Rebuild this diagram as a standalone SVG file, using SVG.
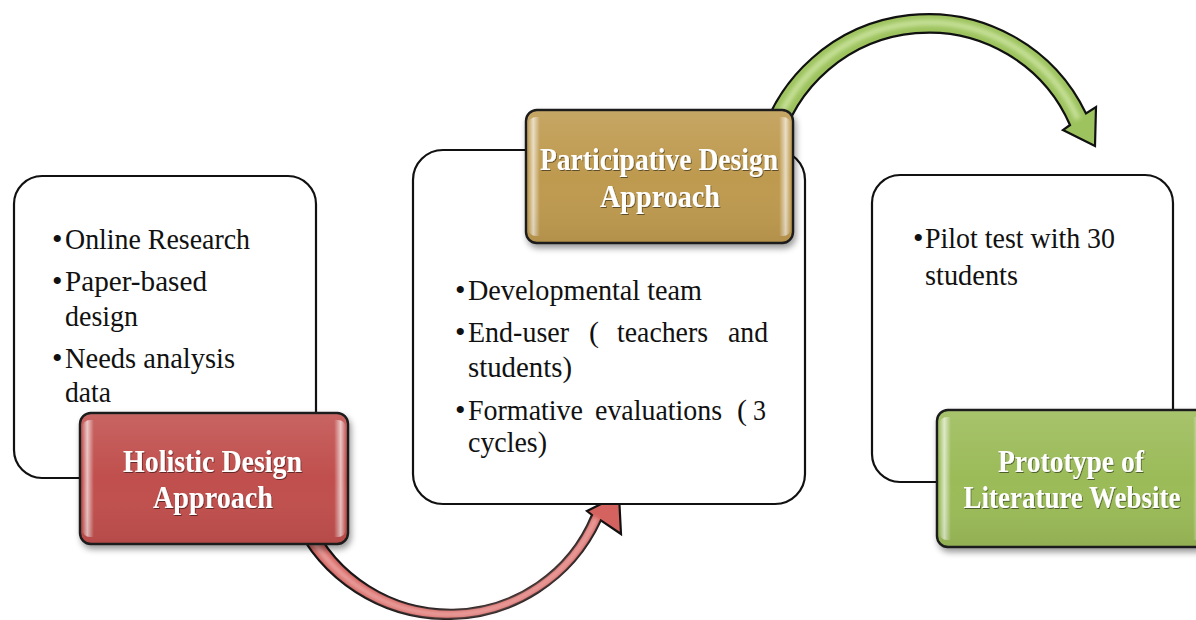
<svg xmlns="http://www.w3.org/2000/svg" width="1196" height="620" viewBox="0 0 1196 620">
<defs>
<style>
.card{fill:#ffffff;stroke:#111;stroke-width:2.2}
.body{font-family:"Liberation Serif","Times New Roman",serif;font-size:30px;fill:#111}
.head{font-family:"Liberation Serif","Times New Roman",serif;font-size:31px;font-weight:bold;fill:#fff}
.tile{stroke:#1a1a1a;stroke-width:2.4}
.arrow{stroke:#111;stroke-width:2.2;stroke-linejoin:miter}
</style>
<filter id="sh" x="-10%" y="-10%" width="125%" height="130%">
<feDropShadow dx="2" dy="4" stdDeviation="3" flood-color="#000" flood-opacity="0.4"/>
</filter>
<filter id="tsh" x="-5%" y="-20%" width="110%" height="150%">
<feDropShadow dx="0.8" dy="1" stdDeviation="0.6" flood-color="#000" flood-opacity="0.5"/>
</filter>
<filter id="blur"><feGaussianBlur stdDeviation="2"/></filter>
<linearGradient id="gloss" x1="0" y1="0" x2="1" y2="0">
<stop offset="0" stop-color="#fff" stop-opacity="0"/>
<stop offset="0.02" stop-color="#fff" stop-opacity="0.65"/>
<stop offset="0.045" stop-color="#fff" stop-opacity="0"/>
<stop offset="0.955" stop-color="#fff" stop-opacity="0"/>
<stop offset="0.98" stop-color="#fff" stop-opacity="0.65"/>
<stop offset="1" stop-color="#fff" stop-opacity="0"/>
</linearGradient>
<linearGradient id="vshade" x1="0" y1="0" x2="0" y2="1">
<stop offset="0" stop-color="#fff" stop-opacity="0.12"/>
<stop offset="0.5" stop-color="#fff" stop-opacity="0"/>
<stop offset="1" stop-color="#000" stop-opacity="0.06"/>
</linearGradient>
</defs>
<rect width="1196" height="620" fill="#ffffff"/>

<g id="connectors">
<g id="arrow-red">
<path class="arrow" fill="#D4625F" d="M 293.4,520 A 169 169 0 0 0 600.8,520.4 L 621,534 L 619,495 L 587,511 L 592,515 A 153 153 0 0 1 311.2,520 Z"/>
<path d="M 302,520 A 161 161 0 0 0 596,518" fill="none" stroke="#F0B0AE" stroke-width="6" opacity="0.8" filter="url(#blur)"/>
</g>
<g id="arrow-green">
<path class="arrow" fill="#9DC35E" d="M 757.6,150 A 175 175 0 0 1 1086,113.5 L 1096,107 L 1095,146 L 1063,130 L 1070,125 A 154 154 0 0 0 779.3,150 Z"/>
<path d="M 768,150 A 164.5 164.5 0 0 1 1078,119" fill="none" stroke="#D2E8A8" stroke-width="6" opacity="0.8" filter="url(#blur)"/>
</g>
</g>

<g id="node-holistic-list">
<rect class="card" x="14" y="176" width="302" height="302" rx="28"/>
<text class="body" x="52" y="249">•</text>
<text class="body" x="65" y="249" textLength="185" lengthAdjust="spacingAndGlyphs">Online Research</text>
<text class="body" x="52" y="291">•</text>
<text class="body" x="65" y="291" textLength="142" lengthAdjust="spacingAndGlyphs">Paper-based</text>
<text class="body" x="65" y="326" textLength="73" lengthAdjust="spacingAndGlyphs">design</text>
<text class="body" x="52" y="368">•</text>
<text class="body" x="65" y="368" textLength="170" lengthAdjust="spacingAndGlyphs">Needs analysis</text>
<text class="body" x="65" y="402" textLength="46" lengthAdjust="spacingAndGlyphs">data</text>
</g>

<g id="node-holistic">
<rect class="tile" x="80" y="413" width="268" height="131" rx="11" fill="#C0504D" filter="url(#sh)"/>
<rect x="82" y="420" width="264" height="117" rx="8" fill="url(#gloss)"/>
<rect x="81" y="414" width="266" height="129" rx="10" fill="url(#vshade)"/>
<g filter="url(#tsh)">
<text class="head" x="123" y="472" textLength="179" lengthAdjust="spacingAndGlyphs">Holistic Design</text>
<text class="head" x="153" y="508" textLength="120" lengthAdjust="spacingAndGlyphs">Approach</text>
</g>
</g>

<g id="node-participative-list">
<rect class="card" x="413" y="150" width="392" height="354" rx="30"/>
<text class="body" x="455" y="300">•</text>
<text class="body" x="468" y="300" textLength="234" lengthAdjust="spacingAndGlyphs">Developmental team</text>
<text class="body" x="455" y="342">•</text>
<text class="body" x="468" y="342" textLength="101" lengthAdjust="spacingAndGlyphs">End-user</text>
<text class="body" x="589" y="342">(</text>
<text class="body" x="617" y="342" textLength="91" lengthAdjust="spacingAndGlyphs">teachers</text>
<text class="body" x="728" y="342" textLength="40" lengthAdjust="spacingAndGlyphs">and</text>
<text class="body" x="468" y="377" textLength="104" lengthAdjust="spacingAndGlyphs">students)</text>
<text class="body" x="455" y="420">•</text>
<text class="body" x="468" y="420" textLength="115" lengthAdjust="spacingAndGlyphs">Formative</text>
<text class="body" x="595" y="420" textLength="127" lengthAdjust="spacingAndGlyphs">evaluations</text>
<text class="body" x="737" y="420">(</text>
<text class="body" x="753" y="420" textLength="13" lengthAdjust="spacingAndGlyphs">3</text>
<text class="body" x="468" y="452" textLength="79" lengthAdjust="spacingAndGlyphs">cycles)</text>
</g>

<g id="node-participative">
<rect class="tile" x="526" y="110" width="267" height="133" rx="11" fill="#BE9A4F" filter="url(#sh)"/>
<rect x="528" y="117" width="263" height="119" rx="8" fill="url(#gloss)"/>
<rect x="527" y="111" width="265" height="131" rx="10" fill="url(#vshade)"/>
<g filter="url(#tsh)">
<text class="head" x="540" y="170" textLength="238" lengthAdjust="spacingAndGlyphs">Participative Design</text>
<text class="head" x="600" y="207" textLength="120" lengthAdjust="spacingAndGlyphs">Approach</text>
</g>
</g>

<g id="node-prototype-list">
<rect class="card" x="872" y="175" width="301" height="307" rx="28"/>
<text class="body" x="913" y="248">•</text>
<text class="body" x="925" y="248" textLength="190" lengthAdjust="spacingAndGlyphs">Pilot test with 30</text>
<text class="body" x="925" y="285" textLength="93" lengthAdjust="spacingAndGlyphs">students</text>
</g>

<g id="node-prototype">
<rect class="tile" x="937" y="410" width="270" height="137" rx="11" fill="#9BBB59" filter="url(#sh)"/>
<rect x="939" y="417" width="266" height="123" rx="8" fill="url(#gloss)"/>
<rect x="938" y="411" width="268" height="135" rx="10" fill="url(#vshade)"/>
<g filter="url(#tsh)">
<text class="head" x="998" y="472" textLength="146" lengthAdjust="spacingAndGlyphs">Prototype of</text>
<text class="head" transform="translate(1072,508) scale(0.87,1)" x="0" y="0" text-anchor="middle">Literature Website</text>
</g>
</g>
</svg>
